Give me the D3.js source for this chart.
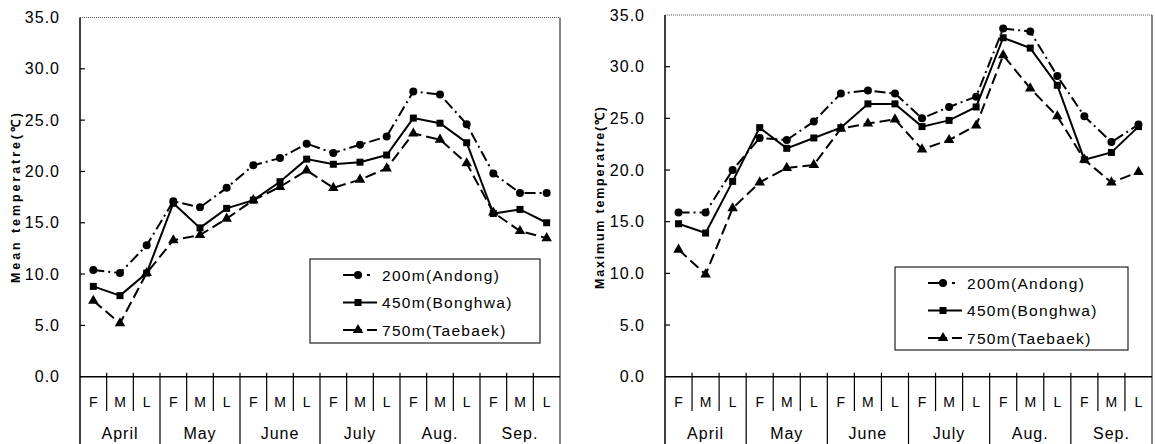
<!DOCTYPE html>
<html><head><meta charset="utf-8">
<script src="https://cdn.jsdelivr.net/npm/d3@7/dist/d3.min.js"></script>
<style>
body{margin:0;background:#fff;}
svg{display:block;font-family:"Liberation Sans",Arial,sans-serif;}
</style></head>
<body><svg id="c" width="1155" height="444"></svg>
<script>
const months = ["April","May","June","July","Aug.","Sep."];
const periods = ["F","M","L"];
const seriesNames = ["200m(Andong)","450m(Bonghwa)","750m(Taebaek)"];
const yTicks = [0,5,10,15,20,25,30,35];

const meanAndong  = [10.4,10.1,12.8, 17.1,16.5,18.4, 20.6,21.3,22.7, 21.8,22.6,23.4, 27.8,27.5,24.6, 19.8,17.9,17.9];
const meanBonghwa = [8.8,7.9,10.1, 16.9,14.5,16.4, 17.2,19.0,21.2, 20.7,20.9,21.6, 25.2,24.7,22.8, 15.9,16.3,15.0];
const meanTaebaek = [7.4,5.2,10.1, 13.3,13.8,15.4, 17.2,18.5,20.1, 18.4,19.2,20.3, 23.7,23.1,20.8, 16.0,14.2,13.5];

const maxAndong  = [15.9,15.9,20.0, 23.1,22.9,24.7, 27.4,27.7,27.4, 25.0,26.1,27.1, 33.7,33.4,29.1, 25.2,22.7,24.4];
const maxBonghwa = [14.8,13.9,18.9, 24.1,22.1,23.1, 24.1,26.4,26.4, 24.2,24.8,26.1, 32.8,31.8,28.2, 21.0,21.7,24.2];
const maxTaebaek = [12.3,9.9,16.3, 18.8,20.2,20.5, 24.0,24.5,24.9, 22.0,22.9,24.3, 31.1,27.9,25.2, 21.0,18.8,19.8];

const svg = d3.select("#c");
const cats = [];
months.forEach(m => periods.forEach(p => cats.push(m + "-" + p)));

const styles = [
  {dash:"11,4,2,4", marker:"circle"},
  {dash:null, marker:"square"},
  {dash:"11,5", marker:"triangle"}
];

function drawMarker(g, type, x, y){
  if(type==="circle") g.append("circle").attr("cx",x).attr("cy",y).attr("r",4).attr("fill","#000");
  else if(type==="square") g.append("rect").attr("x",x-3.5).attr("y",y-3.5).attr("width",7).attr("height",7).attr("fill","#000");
  else g.append("path").attr("d",d3.symbol().type(d3.symbolTriangle).size(48)()).attr("transform",`translate(${x},${y})`).attr("fill","#000");
}

function chart(cfg){
  const g = svg.append("g");
  const x = d3.scaleBand().domain(cats).range([cfg.x0,cfg.x1]).padding(0);
  const y = d3.scaleLinear().domain([0,35]).range([cfg.yBase,cfg.yTop]);

  g.append("line").attr("x1",cfg.x0).attr("x2",cfg.x1).attr("y1",cfg.yTop).attr("y2",cfg.yTop)
    .attr("stroke","#555").attr("stroke-width",1).attr("stroke-dasharray","1,1");
  g.append("line").attr("x1",cfg.x1).attr("x2",cfg.x1).attr("y1",cfg.yTop).attr("y2",444)
    .attr("stroke","#333").attr("stroke-width",1.2);

  const ya = d3.axisLeft(y).tickValues(yTicks).tickFormat(d3.format(".1f")).tickSize(0).tickPadding(20);
  const yg = g.append("g").attr("transform",`translate(${cfg.x0},0)`).call(ya);
  yg.select(".domain").remove();
  yg.selectAll("text").attr("font-size","16px").attr("letter-spacing","1px").attr("fill","#000");
  g.append("line").attr("x1",cfg.x0).attr("x2",cfg.x0).attr("y1",cfg.yTop).attr("y2",444).attr("stroke","#000").attr("stroke-width",1.5);
  g.selectAll(".ytk").data(yTicks.filter(d=>d>0 && d<35)).join("line")
    .attr("x1",cfg.x0).attr("x2",cfg.x0+5).attr("y1",d=>y(d)).attr("y2",d=>y(d)).attr("stroke","#000").attr("stroke-width",1.2);

  g.append("line").attr("x1",cfg.x0).attr("x2",cfg.x1).attr("y1",y(0)).attr("y2",y(0)).attr("stroke","#000").attr("stroke-width",1.5);
  cats.forEach((c,i)=>{
    if(i===0) return;
    const xx = x(c);
    const isMonth = i%3===0;
    g.append("line").attr("x1",xx).attr("x2",xx).attr("y1",y(0)-4).attr("y2",isMonth?444:411)
      .attr("stroke","#000").attr("stroke-width",1.2);
  });
  g.selectAll(".pl").data(cats).join("text")
    .attr("x",d=>x(d)+x.bandwidth()/2).attr("y",407).attr("text-anchor","middle")
    .attr("font-size","14px").text(d=>d.split("-")[1]);
  g.selectAll(".ml").data(months).join("text")
    .attr("x",m=>x(m+"-M")+x.bandwidth()/2).attr("y",439).attr("text-anchor","middle")
    .attr("font-size","16px").attr("letter-spacing","1px").text(m=>m);

  g.append("text").attr("transform",`translate(${cfg.titleX},${cfg.titleY}) rotate(-90)`)
    .attr("text-anchor","middle").attr("font-size","12.5px").attr("font-weight","bold")
    .attr("textLength",cfg.titleLen).attr("lengthAdjust","spacing")
    .text(cfg.title);

  cfg.series.forEach((vals,si)=>{
    const st = styles[si];
    const line = d3.line().x((d,i)=>x(cats[i])+x.bandwidth()/2).y(d=>y(d));
    g.append("path").datum(vals).attr("d",line).attr("fill","none").attr("stroke","#000")
      .attr("stroke-width",2).attr("stroke-dasharray",st.dash);
    vals.forEach((v,i)=>drawMarker(g, st.marker, x(cats[i])+x.bandwidth()/2, y(v)));
  });

  const L = cfg.legend;
  const lg = g.append("g");
  lg.append("rect").attr("x",L.x).attr("y",L.y).attr("width",L.w).attr("height",L.h)
    .attr("fill","#fff").attr("stroke","#222").attr("stroke-width",1.2);
  seriesNames.forEach((n,si)=>{
    const ry = L.y + 16 + si*27.5;
    const st = styles[si];
    if(si===0){
      lg.append("line").attr("x1",L.x+33).attr("x2",L.x+52).attr("y1",ry).attr("y2",ry).attr("stroke","#000").attr("stroke-width",2);
      lg.append("line").attr("x1",L.x+57).attr("x2",L.x+60).attr("y1",ry).attr("y2",ry).attr("stroke","#000").attr("stroke-width",2);
    } else if(si===1){
      lg.append("line").attr("x1",L.x+33).attr("x2",L.x+67).attr("y1",ry).attr("y2",ry).attr("stroke","#000").attr("stroke-width",2);
    } else {
      lg.append("line").attr("x1",L.x+33).attr("x2",L.x+52).attr("y1",ry).attr("y2",ry).attr("stroke","#000").attr("stroke-width",2);
      lg.append("line").attr("x1",L.x+57).attr("x2",L.x+67).attr("y1",ry).attr("y2",ry).attr("stroke","#000").attr("stroke-width",2);
    }
    drawMarker(lg, st.marker, L.x+48, ry);
    lg.append("text").attr("x",L.x+72).attr("y",ry+5.5).attr("font-size","15.5px").attr("letter-spacing","1.3px").text(n);
  });
}

chart({x0:80,x1:560,yTop:17.5,yBase:376.7,title:"Mean temperatre(℃)",titleX:20,titleY:198,titleLen:170,
  series:[meanAndong,meanBonghwa,meanTaebaek],legend:{x:310,y:259,w:230,h:84}});
chart({x0:665,x1:1152,yTop:15,yBase:376.7,title:"Maximum temperatre(℃)",titleX:604,titleY:198,titleLen:182,
  series:[maxAndong,maxBonghwa,maxTaebaek],legend:{x:895,y:267,w:233,h:83}});
</script></body></html>
